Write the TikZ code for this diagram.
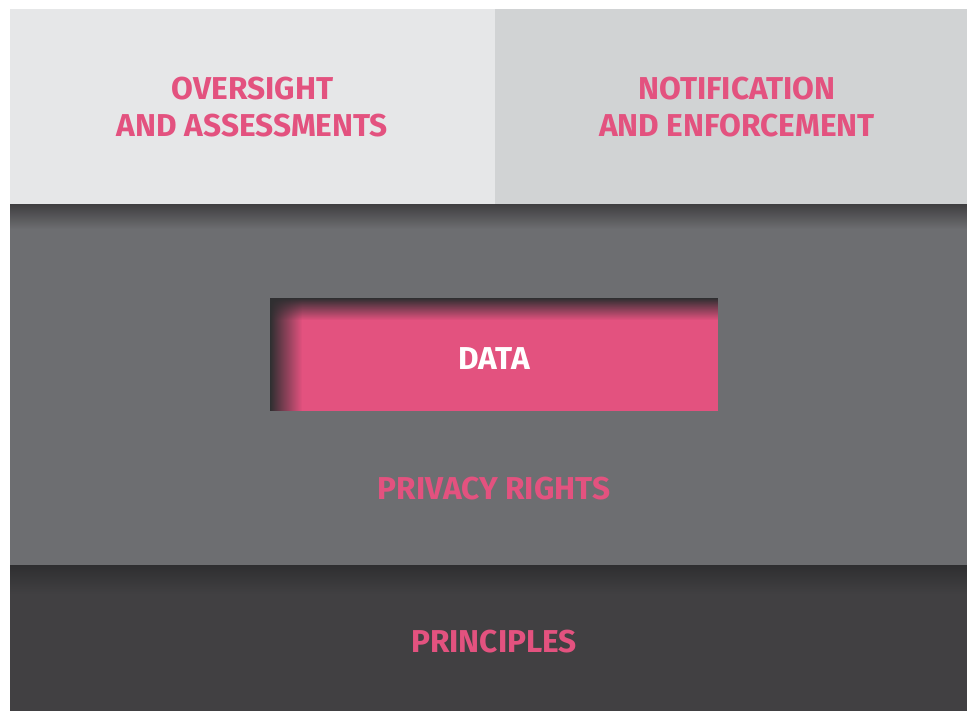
\documentclass[tikz,border=0pt]{standalone}
\usepackage{fontspec}
\setmainfont{Fira Sans}
\usetikzlibrary{positioning, fadings}

\definecolor{paleGrey}{HTML}{E6E7E8}
\definecolor{lightGrey}{HTML}{D1D3D4}
\definecolor{midGrey}{HTML}{6D6E71}
\definecolor{darkGrey}{HTML}{414042}
\definecolor{shadowGrey}{HTML}{2F2F31}
\definecolor{privPink}{HTML}{E3527F}

\begin{document}
\begin{tikzpicture}[
  every node/.style={font=\bfseries\fontsize{9}{10.5}\selectfont, align=center, text=privPink},
  band/.style={rectangle, inner sep=0pt, outer sep=0pt},
  databox/.style={rectangle, inner sep=0pt, outer sep=0pt, fill=privPink, text=white, minimum width=4.48cm, minimum height=1.13cm}
]
\useasboundingbox (0,0) rectangle (9.67,7.11);
\fill[white] (0,0) rectangle (9.67,7.11);

% top row
\node[band, fill=paleGrey, minimum width=4.85cm, minimum height=1.96cm, anchor=north west] (oversight) at (0.10,7.02) {OVERSIGHT\\AND ASSESSMENTS};
\node[band, fill=lightGrey, minimum width=4.72cm, minimum height=1.96cm, right=0pt of oversight] (notification) {};
\node (enforcement) at ([xshift=0.06cm]notification.center) {NOTIFICATION\\AND ENFORCEMENT};

% middle and bottom bands
\node[band, fill=midGrey, minimum width=9.57cm, minimum height=3.61cm, anchor=north west] (privacy) at (oversight.south west) {};
\node[band, fill=darkGrey, minimum width=9.57cm, minimum height=1.45cm, anchor=north west] (principles) at (privacy.south west) {};
\node (base) at (4.94,0.69) {PRINCIPLES};

% shadows under the upper bands
\shade[top color=darkGrey, bottom color=midGrey] (privacy.north west) rectangle ([yshift=-0.24cm]privacy.north east);
\shade[top color=shadowGrey, bottom color=darkGrey] (principles.north west) rectangle ([yshift=-0.28cm]principles.north east);

% data box with inner shadow
\node[databox] (data) at (4.94,3.565) {};
\fill[shadowGrey, path fading=east] (data.north west) rectangle ([xshift=0.32cm]data.south west);
\fill[shadowGrey, path fading=south] (data.north west) rectangle ([yshift=-0.22cm]data.north east);
\node[text=white] (datalabel) at ([yshift=-0.04cm]data.center) {DATA};

\node (rights) at (4.94,2.22) {PRIVACY RIGHTS};
\end{tikzpicture}
\end{document}
